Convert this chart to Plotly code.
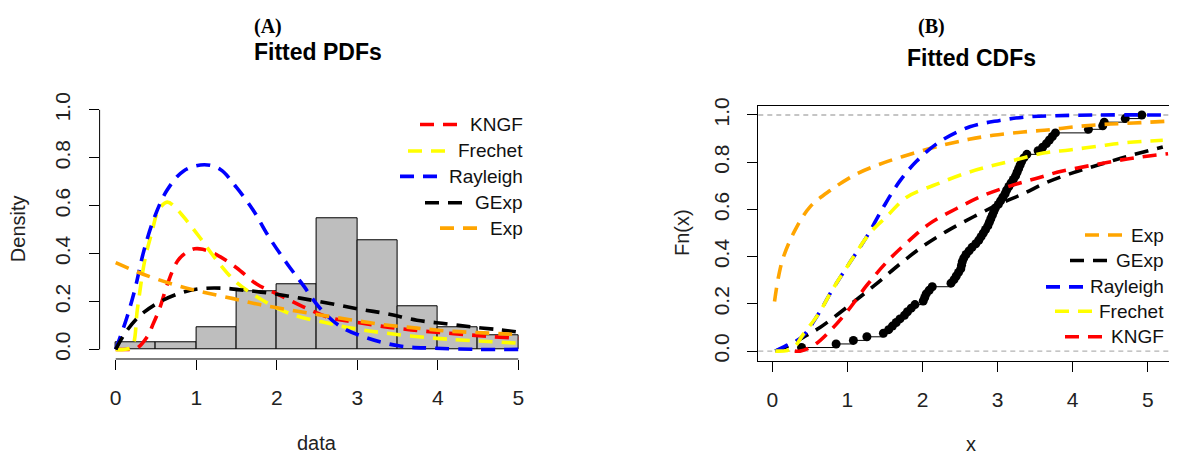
import numpy as np
import plotly.graph_objects as go

# The page body adds an 8px margin; the figure is sized so that the
# screenshot (1177x457) shows the whole figure at the intended positions.
OFF = 8
SCREEN_W, SCREEN_H = 1177, 457
FW, FH = SCREEN_W - OFF, SCREEN_H - OFF


def fx(s):
    return (s - OFF) / FW


def fy(s):
    return 1 - (s - OFF) / FH


# ---------------- data ----------------
# observed sample (read from the empirical CDF / histogram)
sample = [0.39, 0.85, 1.08, 1.26, 1.48,
          1.55, 1.60, 1.65, 1.70, 1.76, 1.80, 1.85, 1.90,
          2.01, 2.03, 2.05, 2.09, 2.13, 2.38, 2.42, 2.45, 2.48,
          2.51, 2.52, 2.53, 2.55, 2.58, 2.62, 2.66, 2.71, 2.75, 2.78, 2.81, 2.84,
          2.87, 2.89, 2.91, 2.93, 2.95, 2.97,
          3.01, 3.04, 3.07, 3.10, 3.12, 3.15, 3.18, 3.21, 3.24, 3.26, 3.28, 3.30,
          3.32, 3.35, 3.39,
          3.54, 3.60, 3.65, 3.69, 3.73, 3.77,
          4.21, 4.40, 4.42, 4.70, 4.92]
bin_start, bin_end, bin_size = 0.0, 5.0, 0.5

# fitted PDFs (panel A)
kngf_pdf_x = [0, 0.15, 0.25, 0.385, 0.47, 0.55, 0.65, 0.77, 0.88, 0.98, 1.08, 1.25, 1.5, 1.75,
              2.04, 2.33, 2.66, 2.95, 3.4, 3.8, 4.2, 4.6, 5.0]
kngf_pdf_y = [0, 0, 0.002, 0.05, 0.11, 0.175, 0.28, 0.37, 0.405, 0.42, 0.418, 0.396, 0.341, 0.273,
              0.226, 0.178, 0.132, 0.115, 0.092, 0.077, 0.066, 0.055, 0.046]
frechet_pdf_x = [0, 0.1, 0.2, 0.27, 0.36, 0.45, 0.53, 0.64, 0.76, 0.9, 1.05, 1.26, 1.5, 1.85,
                 2.2, 2.6, 2.95, 3.35, 3.95, 4.4, 5.0]
frechet_pdf_y = [0, 0, 0.01, 0.17, 0.37, 0.49, 0.58, 0.615, 0.585, 0.53, 0.465, 0.37, 0.28, 0.2,
                 0.145, 0.112, 0.088, 0.068, 0.047, 0.037, 0.026]
rayleigh_pdf_x = [0, 0.136, 0.24, 0.343, 0.467, 0.633, 0.84, 1.1, 1.3, 1.5, 1.71, 1.9, 2.12,
                  2.33, 2.54, 2.79, 3.12, 3.53, 3.95, 4.5, 5.0]
rayleigh_pdf_y = [0, 0.13, 0.253, 0.403, 0.539, 0.662, 0.744, 0.771, 0.751, 0.676, 0.58, 0.471,
                  0.362, 0.267, 0.171, 0.096, 0.048, 0.014, 0.005, 0.0, 0.0]
gexp_pdf_x = [0, 0.11, 0.28, 0.53, 0.81, 1.04, 1.3, 1.6, 1.96, 2.29, 2.66, 3.03, 3.37, 3.74,
              4.1, 4.44, 4.77, 5.0]
gexp_pdf_y = [0, 0.064, 0.135, 0.195, 0.236, 0.253, 0.256, 0.247, 0.232, 0.214, 0.192, 0.168,
              0.149, 0.122, 0.107, 0.093, 0.082, 0.072]
exp_pdf_x = [0, 0.34, 0.76, 1.09, 1.46, 1.79, 2.17, 2.54, 2.91, 3.33, 3.74, 4.15, 4.57, 5.0]
exp_pdf_y = [0.362, 0.314, 0.267, 0.239, 0.212, 0.187, 0.164, 0.144, 0.124, 0.103, 0.089, 0.076,
             0.069, 0.062]

# fitted CDFs (panel B)
exp_cdf_x = [0.03, 0.08, 0.15, 0.30, 0.50, 0.77, 1.12, 1.48, 1.88, 2.28, 2.62, 2.94, 3.34, 3.70,
             4.05, 4.41, 4.81, 5.27]
exp_cdf_y = [0.21, 0.31, 0.40, 0.51, 0.61, 0.68, 0.75, 0.797, 0.838, 0.873, 0.897, 0.914, 0.928,
             0.938, 0.951, 0.96, 0.966, 0.974]
gexp_cdf_x = [0.04, 0.2, 0.41, 0.635, 1.035, 1.39, 1.70, 2.01, 2.32, 2.68, 3.03, 3.34, 3.65, 4.01,
              4.36, 4.72, 5.2]
gexp_cdf_y = [0.0, 0.02, 0.058, 0.10, 0.196, 0.286, 0.369, 0.445, 0.507, 0.569, 0.624, 0.666,
              0.714, 0.756, 0.79, 0.824, 0.864]
rayleigh_cdf_x = [0.04, 0.19, 0.39, 0.61, 0.81, 1.035, 1.26, 1.48, 1.70, 1.92, 2.23, 2.63, 3.03,
                  3.39, 3.76, 4.3, 5.27]
rayleigh_cdf_y = [0.0, 0.024, 0.058, 0.155, 0.265, 0.376, 0.486, 0.61, 0.721, 0.804, 0.887, 0.95,
                  0.977, 0.992, 0.997, 1.0, 1.0]
frechet_cdf_x = [0.04, 0.2, 0.3, 0.41, 0.61, 0.81, 1.035, 1.30, 1.52, 1.79, 2.19, 2.59, 2.90,
                 3.25, 3.63, 3.96, 4.36, 4.72, 5.2]
frechet_cdf_y = [0.0, 0.003, 0.02, 0.07, 0.155, 0.265, 0.376, 0.50, 0.569, 0.652, 0.707, 0.755,
                 0.783, 0.811, 0.84, 0.852, 0.869, 0.883, 0.893]
kngf_cdf_x = [0.3, 0.37, 0.55, 0.77, 1.0, 1.26, 1.52, 1.79, 2.10, 2.455, 2.81, 3.17, 3.50, 3.85,
              4.22, 4.56, 4.90, 5.27]
kngf_cdf_y = [0.0, 0.0, 0.024, 0.086, 0.169, 0.279, 0.376, 0.459, 0.541, 0.604, 0.659, 0.70, 0.73,
              0.762, 0.785, 0.805, 0.822, 0.836]

x_ticks = [0, 1, 2, 3, 4, 5]
y_ticks = [0.0, 0.2, 0.4, 0.6, 0.8, 1.0]
y_ticktext = ["0.0", "0.2", "0.4", "0.6", "0.8", "1.0"]

colors = {"KNGF": "#FF0000", "Frechet": "#FFFF00", "Rayleigh": "#0000FF",
          "GExp": "#000000", "Exp": "#FFA500"}

pdf_series = [("KNGF", kngf_pdf_x, kngf_pdf_y), ("Frechet", frechet_pdf_x, frechet_pdf_y),
              ("Rayleigh", rayleigh_pdf_x, rayleigh_pdf_y), ("GExp", gexp_pdf_x, gexp_pdf_y),
              ("Exp", exp_pdf_x, exp_pdf_y)]
cdf_series = [("Exp", exp_cdf_x, exp_cdf_y), ("GExp", gexp_cdf_x, gexp_cdf_y),
              ("Rayleigh", rayleigh_cdf_x, rayleigh_cdf_y), ("Frechet", frechet_cdf_x, frechet_cdf_y),
              ("KNGF", kngf_cdf_x, kngf_cdf_y)]

# ---------------- style / layout ----------------
FONT = "Liberation Sans, Arial, sans-serif"
SERIF = "Liberation Serif, Times New Roman, serif"
DASH = "14px,9px"
LW = 3.6

# legend geometry (screen pixels): text right edge, row centres, sample-line start
LEG_A_TEXT_RIGHT = 525
LEG_A_ROWS = [119, 146, 172, 199, 225]
LEG_A_LINE_START = [420, 408, 400, 425, 440]
LEG_B_TEXT_RIGHT = 1166
LEG_B_ROWS = [232, 258, 285, 310, 336]
LEG_B_LINE_START = [1085, 1070, 1046, 1055, 1065]
LEG_LINE_LEN = 37

fig = go.Figure()

# Panel A: histogram
fig.add_trace(go.Histogram(
    x=sample, histnorm="probability density",
    xbins=dict(start=bin_start, end=bin_end, size=bin_size),
    marker=dict(color="#BEBEBE", line=dict(color="#000000", width=1)),
    showlegend=False, xaxis="x", yaxis="y", hoverinfo="skip"))

for name, xs, ys in pdf_series:
    fig.add_trace(go.Scatter(
        x=xs, y=ys, mode="lines", name=name, showlegend=False,
        line=dict(color=colors[name], width=LW, dash=DASH, shape="spline", smoothing=1.0),
        xaxis="x", yaxis="y", hoverinfo="skip"))

# Panel B: empirical CDF
ecdf_x = np.sort(np.array(sample))
ecdf_y = np.arange(1, len(ecdf_x) + 1) / len(ecdf_x)
fig.add_trace(go.Scatter(
    x=ecdf_x, y=ecdf_y, mode="lines+markers",
    line=dict(color="#000000", width=1, shape="hv"),
    marker=dict(color="#000000", size=9),
    showlegend=False, xaxis="x2", yaxis="y2", hoverinfo="skip"))

for name, xs, ys in cdf_series:
    fig.add_trace(go.Scatter(
        x=xs, y=ys, mode="lines", name=name, showlegend=False,
        line=dict(color=colors[name], width=LW, dash=DASH, shape="spline", smoothing=1.0),
        xaxis="x2", yaxis="y2", hoverinfo="skip"))


# axis ranges in R style (4% extension)
def r_range(lo, hi):
    d = (hi - lo) * 0.04
    return [lo - d, hi + d]


xr_a = r_range(min(x_ticks), max(x_ticks))
yr_a = r_range(min(y_ticks), max(y_ticks))
xr_b = [-0.186, 5.389]
yr_b = r_range(min(y_ticks), max(y_ticks))

tickfont = dict(family=FONT, size=21, color="#222222")
common_x = dict(tickmode="array", tickvals=x_ticks, ticks="outside", ticklen=10, tickwidth=1,
                tickcolor="#000000", showgrid=False, zeroline=False, tickfont=tickfont,
                ticklabelstandoff=10)
common_y = dict(tickmode="array", tickvals=y_ticks, ticktext=y_ticktext, ticks="outside",
                ticklen=10, tickwidth=1, tickcolor="#000000", showgrid=False, zeroline=False,
                tickfont=tickfont, tickangle=-90, ticklabelstandoff=10)

fig.update_layout(
    width=FW, height=FH, margin=dict(l=0, r=0, t=0, b=0),
    paper_bgcolor="white", plot_bgcolor="white",
    bargap=0, barmode="overlay", showlegend=False,
    xaxis=dict(domain=[fx(99.6), fx(534.4)], range=xr_a, anchor="y", showline=False, **common_x),
    yaxis=dict(domain=[fy(358.8), fy(94.2)], range=yr_a, anchor="x", showline=False, **common_y),
    xaxis2=dict(domain=[fx(758.3), 1.0], range=xr_b, anchor="y2", showline=True, mirror=True,
                linecolor="#000000", linewidth=1, **common_x),
    yaxis2=dict(domain=[fy(360.4), fy(99.6)], range=yr_b, anchor="x2", showline=True,
                linecolor="#000000", linewidth=1, **common_y),
)

# R-style axis lines for panel A (only between first and last tick)
fig.add_shape(type="line", xref="x", yref="y domain", x0=min(x_ticks), x1=max(x_ticks), y0=0, y1=0,
              line=dict(color="#000000", width=1))
fig.add_shape(type="line", xref="x domain", yref="y", x0=0, x1=0, y0=min(y_ticks), y1=max(y_ticks),
              line=dict(color="#000000", width=1))
# grey reference lines at 0 and 1 in panel B
for yv in (min(y_ticks), max(y_ticks)):
    fig.add_shape(type="line", xref="x2 domain", yref="y2", x0=0, x1=1, y0=yv, y1=yv,
                  line=dict(color="#B3B3B3", width=1.3, dash="5px,4px"), layer="below")


def txt(s, x, y, size, family=FONT, bold=False, angle=0, color="#000000", xanchor="center"):
    fig.add_annotation(text=f"<b>{s}</b>" if bold else s, x=fx(x), y=fy(y), xref="paper",
                       yref="paper", showarrow=False, xanchor=xanchor, yanchor="middle",
                       textangle=angle, font=dict(family=family, size=size, color=color))


# legends (R style: right-justified entries)
def draw_legend(series, text_right, rows, line_starts):
    for (name, _, _), row, x0 in zip(series, rows, line_starts):
        fig.add_shape(type="line", xref="paper", yref="paper",
                      x0=fx(x0), x1=fx(x0 + LEG_LINE_LEN), y0=fy(row), y1=fy(row),
                      line=dict(color=colors[name], width=LW, dash=DASH))
        txt(name, text_right, row, 19, color="#111111", xanchor="right")


draw_legend(pdf_series, LEG_A_TEXT_RIGHT, LEG_A_ROWS, LEG_A_LINE_START)
draw_legend(cdf_series, LEG_B_TEXT_RIGHT, LEG_B_ROWS, LEG_B_LINE_START)

txt("(A)", 268, 19, 20, family=SERIF, bold=True)
txt("Fitted PDFs", 317.5, 45, 23, bold=True)
txt("(B)", 931, 19, 20, family=SERIF, bold=True)
txt("Fitted CDFs", 971, 51, 23, bold=True)
txt("data", 317, 445, 20, color="#222222")
txt("Density", 18, 226, 20, angle=-90, color="#222222")
txt("x", 971, 446, 20, color="#222222")
txt("Fn(x)", 682, 230, 20, angle=-90, color="#222222")

fig.write_html("out.html")
